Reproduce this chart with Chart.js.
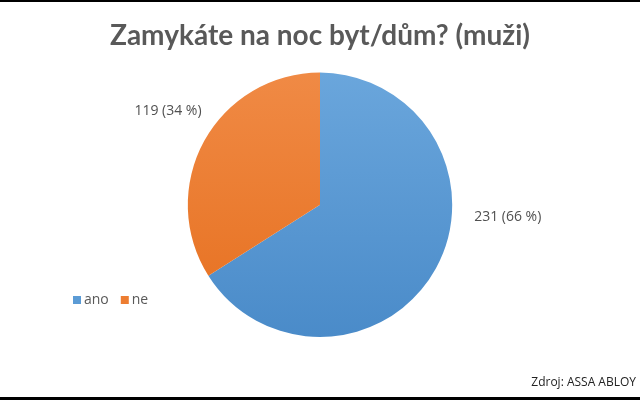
<!DOCTYPE html>
<html>
<head>
    <title>Zamykáte na noc byt/dům? (muži)</title>
    <style>
        body { margin: 0; background: #fff; }
        #chartContainer { width: 640px; height: 400px; }
    </style>
    <script src="https://cdn.jsdelivr.net/npm/chart.js"></script>
</head>
<body>

    <div id="chartContainer">
        <canvas id="myPieChart"></canvas>
    </div>

    <script>
        const categories = ['ano', 'ne'];
        const counts = [231, 119];
        const percentLabels = ['66 %', '34 %'];
        const sliceColors = ['#5b9bd5', '#ed7d31'];
        const sliceColorsLight = ['#6aa6dc', '#f08a45'];
        const sliceColorsDark = ['#4a8bc9', '#e66f1e'];

        const titleText = 'Zamykáte na noc byt/dům? (muži)';
        const sourceText = 'Zdroj: ASSA ABLOY';

        // where the value labels sit relative to the pie centre (multiples of radius)
        const labelOffsets = [[1.42, 0.09], [-1.15, -0.71]];

        const extras = {
            id: 'extras',
            afterDraw(chart) {
                const ctx = chart.ctx;
                const meta = chart.getDatasetMeta(0);
                ctx.save();

                // value labels
                ctx.font = '14px "Open Sans", sans-serif';
                ctx.fillStyle = '#505050';
                ctx.textAlign = 'center';
                ctx.textBaseline = 'middle';
                meta.data.forEach((arc, i) => {
                    const r = arc.outerRadius;
                    ctx.fillText(counts[i] + ' (' + percentLabels[i] + ')',
                        arc.x + labelOffsets[i][0] * r, arc.y + labelOffsets[i][1] * r);
                });

                // legend
                ctx.font = '14px "Open Sans", sans-serif';
                ctx.textAlign = 'left';
                let lx = 73;
                const ly = 300;
                categories.forEach((c, i) => {
                    ctx.fillStyle = sliceColors[i];
                    ctx.fillRect(lx, ly - 4, 8, 8);
                    ctx.fillStyle = '#595959';
                    ctx.fillText(c, lx + 11, ly);
                    lx += 11 + ctx.measureText(c).width + 12;
                });

                // source
                ctx.font = '12px "Open Sans", sans-serif';
                ctx.fillStyle = '#222';
                ctx.textAlign = 'right';
                ctx.fillText(sourceText, 636, 383);

                // frame lines
                ctx.fillStyle = '#000';
                ctx.fillRect(0, 0, 640, 2);
                ctx.fillRect(0, 397, 640, 3);
                ctx.restore();
            }
        };

        const ctx = document.getElementById('myPieChart').getContext('2d');
        new Chart(ctx, {
            type: 'pie',
            data: {
                labels: categories,
                datasets: [{
                    data: counts,
                    backgroundColor: (c) => {
                        const area = c.chart.chartArea;
                        if (!area) return sliceColors[c.dataIndex];
                        const g = c.chart.ctx.createLinearGradient(0, area.top, 0, area.bottom);
                        g.addColorStop(0, sliceColorsLight[c.dataIndex]);
                        g.addColorStop(1, sliceColorsDark[c.dataIndex]);
                        return g;
                    },
                    borderWidth: 0
                }]
            },
            options: {
                responsive: true,
                maintainAspectRatio: false,
                animation: false,
                layout: { padding: { top: 0, bottom: 63 } },
                plugins: {
                    legend: { display: false },
                    tooltip: { enabled: false },
                    title: {
                        display: true,
                        text: titleText,
                        color: '#595959',
                        font: { family: 'Lato', size: 28, weight: 'bold' },
                        padding: { top: 19, bottom: 20 }
                    }
                }
            },
            plugins: [extras]
        });
    </script>

</body>
</html>
